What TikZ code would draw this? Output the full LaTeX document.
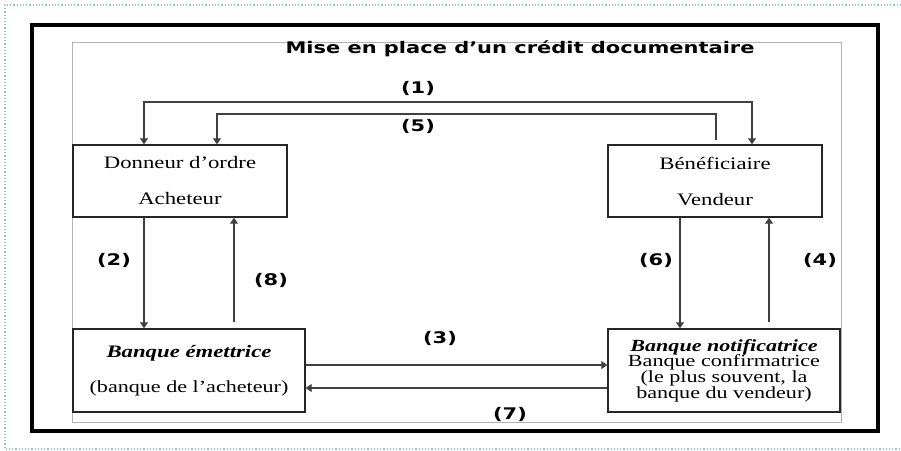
\documentclass[tikz,border=0pt]{standalone}
\usepackage{fontspec}
\usetikzlibrary{arrows.meta}
\setmainfont[FakeStretch=1.3]{Liberation Serif}
\newfontfamily\titlefont[FakeStretch=1.31]{DejaVu Sans}
\definecolor{framedot}{HTML}{8CCAC0}
\tikzset{
  box/.style={draw=black!85,line width=1.4pt,inner sep=0pt,align=center,
    font=\fontsize{17.5}{20}\selectfont},
  flow/.style={draw=black!75,line width=1.2pt,-{Triangle[length=6pt,width=8pt]}},
  step label/.style={font=\titlefont\bfseries\fontsize{16}{18}\selectfont},
}

\begin{document}
\begin{tikzpicture}[x=1pt,y=-1pt]
  \useasboundingbox (0,0) rectangle (901,450);
  \draw[framedot,dotted,line width=1.2pt] (901,5) -- (5,5) -- (5,449) -- (901,449);
  \draw[line width=3.5pt] (32,25) rectangle (878,431);
  \draw[black!30,line width=0.8pt] (72,42) rectangle (841,422);

  \node[font=\titlefont\bfseries\fontsize{16}{18}\selectfont] (title) at (520,49)
    {Mise en place d’un crédit documentaire};

  \node[box,minimum width=214pt,minimum height=72pt] (don) at (180,181)
    {Donneur d’ordre\\[16pt]Acheteur};
  \node[box,minimum width=214pt,minimum height=72pt] (ben) at (715,181)
    {Bénéficiaire\\[16pt]Vendeur};
  \node[box,minimum width=232pt,minimum height=83pt] (emit) at (189,370.5)
    {\textbf{\textit{Banque émettrice}}\\[15pt]{\fontsize{17}{20}\selectfont(banque de l’acheteur)}};
  \node[box,minimum width=232pt,minimum height=83pt,
        font=\fontsize{17}{15.7}\selectfont] (notif) at (724,370.5)
    {\textbf{\textit{Banque notificatrice}}\\Banque confirmatrice\\(le plus souvent, la\\banque du vendeur)};

  % (1) and (5)
  \coordinate (c1a) at (144,102);
  \coordinate (c1b) at (752,102);
  \draw[flow,{Triangle[length=6pt,width=8pt]}-{Triangle[length=6pt,width=8pt]}]
    (don.north -| c1a) -- (c1a) -- (c1b) -- (ben.north -| c1b);
  \coordinate (c5s) at (716,140);
  \coordinate (c5a) at (217,114);
  \draw[flow] (c5s) |- (c5a) -- (don.north -| c5a);

  % vertical flows
  \coordinate (p2) at ([xshift=-36pt]don.south);
  \draw[flow] (p2) -- (p2 |- emit.north);
  \coordinate (p8) at (234,322);
  \draw[flow] (p8) -- (p8 |- don.south);
  \coordinate (p6) at ([xshift=-35pt]ben.south);
  \draw[flow] (p6) -- (p6 |- notif.north);
  \coordinate (p4) at (769,322);
  \draw[flow] (p4) -- (p4 |- ben.south);

  % horizontal flows
  \coordinate (p3) at ([yshift=5.5pt]emit.east);
  \draw[flow] (p3) -- (p3 -| notif.west);
  \coordinate (p7) at ([yshift=-17.5pt]notif.west);
  \draw[flow] (p7) -- (p7 -| emit.east);

  \node[step label] (l1) at (418,88) {(1)};
  \node[step label] (l5) at (418,126) {(5)};
  \node[step label] (l2) at (114,260) {(2)};
  \node[step label] (l8) at (271,280) {(8)};
  \node[step label] (l3) at (440,338) {(3)};
  \node[step label] (l7) at (510,414) {(7)};
  \node[step label] (l6) at (656,260) {(6)};
  \node[step label] (l4) at (820,260) {(4)};
\end{tikzpicture}
\end{document}
